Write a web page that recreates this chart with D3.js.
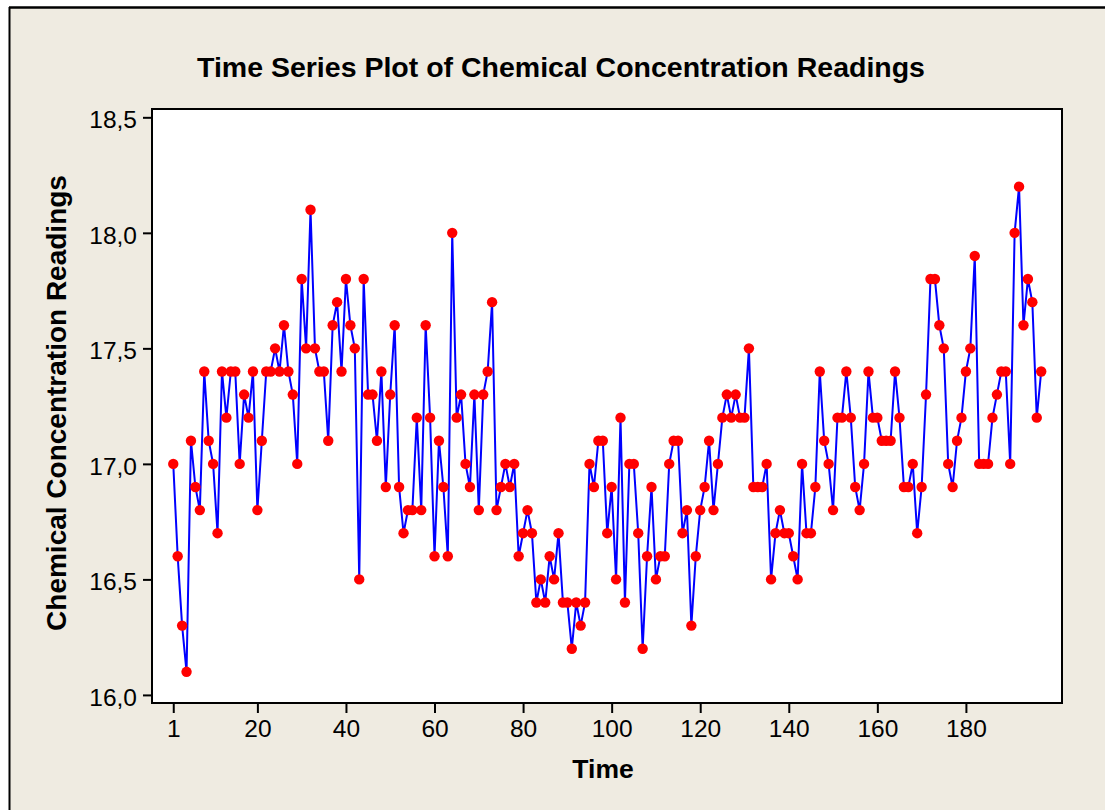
<!DOCTYPE html>
<html>
<head>
<meta charset="utf-8">
<script src="https://cdn.jsdelivr.net/npm/d3@7"></script>
<style>
  html, body { margin: 0; padding: 0; background: #ffffff; }
  svg { display: block; }
  text { font-family: "Liberation Sans", Arial, sans-serif; fill: #000; }
</style>
</head>
<body>
<svg id="chart" width="1105" height="810"></svg>
<script>
// Chemical process concentration readings, taken every two hours (197 observations)
const readings = [
  17.0, 16.6, 16.3, 16.1, 17.1, 16.9, 16.8, 17.4, 17.1, 17.0,
  16.7, 17.4, 17.2, 17.4, 17.4, 17.0, 17.3, 17.2, 17.4, 16.8,
  17.1, 17.4, 17.4, 17.5, 17.4, 17.6, 17.4, 17.3, 17.0, 17.8,
  17.5, 18.1, 17.5, 17.4, 17.4, 17.1, 17.6, 17.7, 17.4, 17.8,
  17.6, 17.5, 16.5, 17.8, 17.3, 17.3, 17.1, 17.4, 16.9, 17.3,
  17.6, 16.9, 16.7, 16.8, 16.8, 17.2, 16.8, 17.6, 17.2, 16.6,
  17.1, 16.9, 16.6, 18.0, 17.2, 17.3, 17.0, 16.9, 17.3, 16.8,
  17.3, 17.4, 17.7, 16.8, 16.9, 17.0, 16.9, 17.0, 16.6, 16.7,
  16.8, 16.7, 16.4, 16.5, 16.4, 16.6, 16.5, 16.7, 16.4, 16.4,
  16.2, 16.4, 16.3, 16.4, 17.0, 16.9, 17.1, 17.1, 16.7, 16.9,
  16.5, 17.2, 16.4, 17.0, 17.0, 16.7, 16.2, 16.6, 16.9, 16.5,
  16.6, 16.6, 17.0, 17.1, 17.1, 16.7, 16.8, 16.3, 16.6, 16.8,
  16.9, 17.1, 16.8, 17.0, 17.2, 17.3, 17.2, 17.3, 17.2, 17.2,
  17.5, 16.9, 16.9, 16.9, 17.0, 16.5, 16.7, 16.8, 16.7, 16.7,
  16.6, 16.5, 17.0, 16.7, 16.7, 16.9, 17.4, 17.1, 17.0, 16.8,
  17.2, 17.2, 17.4, 17.2, 16.9, 16.8, 17.0, 17.4, 17.2, 17.2,
  17.1, 17.1, 17.1, 17.4, 17.2, 16.9, 16.9, 17.0, 16.7, 16.9,
  17.3, 17.8, 17.8, 17.6, 17.5, 17.0, 16.9, 17.1, 17.2, 17.4,
  17.5, 17.9, 17.0, 17.0, 17.0, 17.2, 17.3, 17.4, 17.4, 17.0,
  18.0, 18.2, 17.6, 17.8, 17.7, 17.2, 17.4
];
const timeIndex = readings.map((_, i) => i + 1);

const xTickValues = [1, 20, 40, 60, 80, 100, 120, 140, 160, 180];
const yTickValues = [16.0, 16.5, 17.0, 17.5, 18.0, 18.5];

const titleText = "Time Series Plot of Chemical Concentration Readings";
const xTitleText = "Time";
const yTitleText = "Chemical Concentration Readings";

const svg = d3.select("#chart");
const W = 1105, H = 810;

// Panel background with its top and left frame lines
svg.append("rect").attr("x", 9).attr("y", 7).attr("width", W - 9).attr("height", H - 7)
  .attr("fill", "#efebe1");
svg.append("line").attr("x1", 9).attr("x2", W).attr("y1", 7.5).attr("y2", 7.5)
  .attr("stroke", "#000").attr("stroke-width", 2.5);
svg.append("line").attr("x1", 9.5).attr("x2", 9.5).attr("y1", 7).attr("y2", H)
  .attr("stroke", "#000").attr("stroke-width", 2);

const plot = { left: 152, top: 109, right: 1062, bottom: 703 };

const x = d3.scaleLinear().domain([-3.8, 201.7]).range([plot.left, plot.right]);
const y = d3.scaleLinear().domain([15.965, 18.536]).range([plot.bottom, plot.top]);

// Data region
svg.append("rect")
  .attr("x", plot.left).attr("y", plot.top)
  .attr("width", plot.right - plot.left).attr("height", plot.bottom - plot.top)
  .attr("fill", "#ffffff");

const fmt = d => d3.format(".1f")(d).replace(".", ",");

// Axes
const xAxis = d3.axisBottom(x).tickValues(xTickValues).tickSize(10).tickPadding(6)
  .tickFormat(d3.format("d"));
const gx = svg.append("g").attr("transform", `translate(0,${plot.bottom})`).call(xAxis);
gx.select(".domain").remove();
gx.selectAll(".tick line").attr("stroke", "#000").attr("stroke-width", 2);
gx.selectAll(".tick text").attr("font-size", 24.5).attr("font-family", "Liberation Sans, Arial, sans-serif")
  .attr("fill", "#000").attr("dy", "0.74em");

const yAxis = d3.axisLeft(y).tickValues(yTickValues).tickSize(9).tickPadding(6)
  .tickFormat(fmt);
const gy = svg.append("g").attr("transform", `translate(${plot.left},0)`).call(yAxis);
gy.select(".domain").remove();
gy.selectAll(".tick line").attr("stroke", "#000").attr("stroke-width", 2);
gy.selectAll(".tick text").attr("font-size", 24.5).attr("font-family", "Liberation Sans, Arial, sans-serif")
  .attr("fill", "#000").attr("dy", "0.42em");

// Series line and markers
const line = d3.line().x((d, i) => x(timeIndex[i])).y(d => y(d));
svg.append("path").datum(readings)
  .attr("d", line)
  .attr("fill", "none")
  .attr("stroke", "#0000ff")
  .attr("stroke-width", 2)
  .attr("stroke-linejoin", "miter");

svg.append("g").selectAll("circle").data(readings).join("circle")
  .attr("cx", (d, i) => x(timeIndex[i]))
  .attr("cy", d => y(d))
  .attr("r", 5.2)
  .attr("fill", "#ff0000");

// Plot frame
svg.append("rect")
  .attr("x", plot.left).attr("y", plot.top)
  .attr("width", plot.right - plot.left).attr("height", plot.bottom - plot.top)
  .attr("fill", "none").attr("stroke", "#000").attr("stroke-width", 2);

// Titles
svg.append("text").attr("x", 561).attr("y", 77)
  .attr("text-anchor", "middle").attr("font-size", 28.5).attr("font-weight", "bold")
  .text(titleText);

svg.append("text").attr("x", 603).attr("y", 778)
  .attr("text-anchor", "middle").attr("font-size", 26.5).attr("font-weight", "bold")
  .text(xTitleText);

svg.append("text")
  .attr("transform", "translate(66,403) rotate(-90)")
  .attr("text-anchor", "middle").attr("font-size", 28).attr("font-weight", "bold")
  .text(yTitleText);
</script>
</body>
</html>
